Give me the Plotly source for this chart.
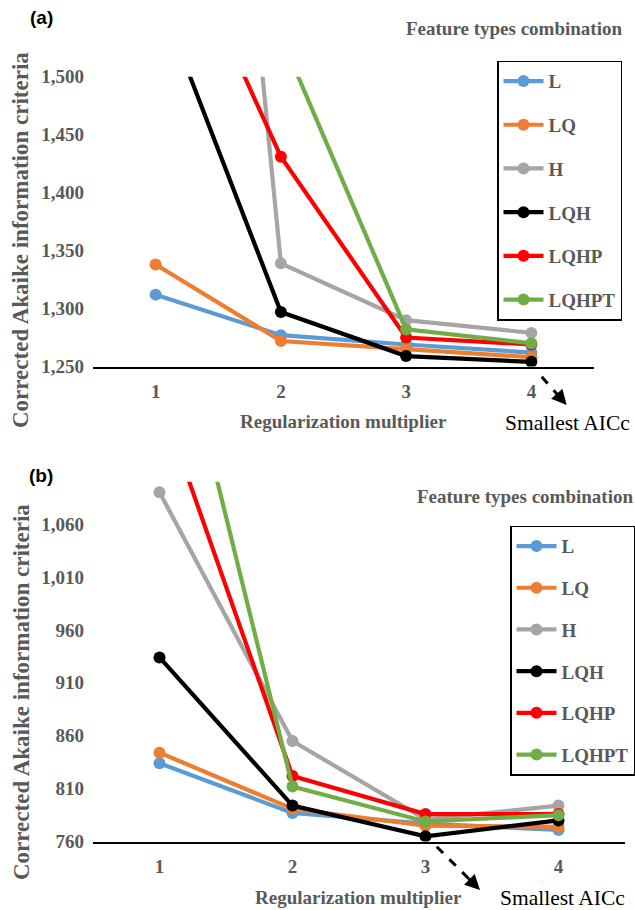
import plotly.graph_objects as go

# ---------------- data ----------------
multipliers = [1, 2, 3, 4]
tick_text = ["1", "2", "3", "4"]
series_names = ["L", "LQ", "H", "LQH", "LQHP", "LQHPT"]
colors = ["#5B9BD5", "#ED7D31", "#A5A5A5", "#000000", "#FF0000", "#70AD47"]

# panel (a)
L_a = [1312, 1277, 1269, 1262]
LQ_a = [1338, 1272, 1265, 1258]
H_a = [2440, 1339, 1290, 1279]
LQH_a = [1577, 1297, 1259, 1254]
LQHP_a = [1669, 1431, 1275, 1269]
LQHPT_a = [1800, 1535, 1282, 1270]

# panel (b)
L_b = [834, 787, 777, 771]
LQ_b = [844, 791, 775, 774]
H_b = [1090, 855, 781, 794]
LQH_b = [934, 794, 765, 780]
LQHP_b = [1180, 822, 786, 786]
LQHPT_b = [1322, 812, 779, 785]

panel_a = [L_a, LQ_a, H_a, LQH_a, LQHP_a, LQHPT_a]
panel_b = [L_b, LQ_b, H_b, LQH_b, LQHP_b, LQHPT_b]

W, H = 635, 910
SERIF = "Liberation Serif, Times New Roman, serif"
SANS = "Liberation Sans, Arial, sans-serif"
GRAY = "#595959"


def px(x):
    return x / W


def py(y):
    return 1 - y / H


fig = go.Figure()

for name, vals, col in zip(series_names, panel_a, colors):
    fig.add_trace(go.Scatter(
        x=multipliers, y=vals, name=name, mode="lines+markers",
        line=dict(color=col, width=4.2), marker=dict(color=col, size=12),
        xaxis="x", yaxis="y", legend="legend", legendgroup="a" + name,
    ))

for name, vals, col in zip(series_names, panel_b, colors):
    fig.add_trace(go.Scatter(
        x=multipliers, y=vals, name=name, mode="lines+markers",
        line=dict(color=col, width=4.2), marker=dict(color=col, size=12),
        xaxis="x2", yaxis="y2", legend="legend2", legendgroup="b" + name,
    ))

tickfont = dict(family=SERIF, size=19, color=GRAY, weight="bold")

xcommon = dict(
    range=[0.5, 4.5], tickvals=multipliers, ticktext=tick_text,
    showgrid=False, zeroline=False, showline=True, linecolor="black",
    linewidth=1.5, ticks="", tickfont=tickfont, ticklabelstandoff=7,
    fixedrange=True,
)
ycommon = dict(
    showgrid=False, zeroline=False, showline=False, ticks="",
    tickformat=",d", dtick=50, tickfont=tickfont, ticklabelstandoff=8,
    fixedrange=True,
)

legend_common = dict(
    bgcolor="white", bordercolor="black", borderwidth=1.5,
    font=dict(family=SERIF, size=19, color=GRAY, weight="bold"),
    xanchor="left", yanchor="top", traceorder="grouped", itemwidth=40,
)

fig.update_layout(
    width=W, height=H, margin=dict(l=0, r=0, t=0, b=0, autoexpand=False),
    paper_bgcolor="white", plot_bgcolor="white",
    xaxis=dict(domain=[px(93), px(594)], anchor="y", **xcommon),
    yaxis=dict(domain=[py(366.5), py(76.7)], anchor="x", range=[1250, 1500],
               tick0=1250, **ycommon),
    xaxis2=dict(domain=[px(93), px(625)], anchor="y2", **xcommon),
    yaxis2=dict(domain=[py(841.6), py(481.7)], anchor="x2", range=[760, 1100],
                tick0=760, **ycommon),
    legend=dict(x=px(497), y=py(60.7), tracegroupgap=16, **legend_common),
    legend2=dict(x=px(510), y=py(525.7), tracegroupgap=14,
                 entrywidth=88, entrywidthmode="pixels", **legend_common),
    showlegend=True,
)

ann = []
P = dict(xref="paper", yref="paper", showarrow=False,
         xanchor="center", yanchor="middle")
# panel labels
ann.append(dict(text="(a)", x=px(41), y=py(17), **P,
                font=dict(family=SANS, size=19, color="black", weight="bold")))
ann.append(dict(text="(b)", x=px(41), y=py(475), **P,
                font=dict(family=SANS, size=19, color="black", weight="bold")))
# legend titles
for yy, xx in [(28.3, 514), (496.7, 525)]:
    ann.append(dict(text="Feature types combination", x=px(xx), y=py(yy), **P,
                    font=dict(family=SERIF, size=19, color=GRAY, weight="bold")))
# axis titles
for yy, xx in [(421, 343.5), (897, 359)]:
    ann.append(dict(text="Regularization multiplier", x=px(xx), y=py(yy), **P,
                    font=dict(family=SERIF, size=19, color=GRAY, weight="bold")))
for yy in [240, 692]:
    ann.append(dict(text="Corrected Akaike information criteria", x=px(21),
                    y=py(yy), textangle=-90, **P,
                    font=dict(family=SERIF, size=23, color=GRAY, weight="bold")))
# smallest AICc notes
for xx, yy in [(567, 423), (562, 898)]:
    ann.append(dict(text="Smallest AICc", x=px(xx), y=py(yy), **P,
                    font=dict(family=SERIF, size=21.5, color="black")))

# dashed arrows
shapes = []
for (x0, y0, x1, y1) in [(541.7, 376.7, 566.7, 405), (436.7, 846.7, 480, 890)]:
    shapes.append(dict(type="line", xref="paper", yref="paper",
                       x0=px(x0), y0=py(y0), x1=px(x1 - (x1 - x0) * 0.15),
                       y1=py(y1 - (y1 - y0) * 0.15),
                       line=dict(color="black", width=3, dash="dash")))
    ann.append(dict(text="", x=px(x1), y=py(y1), xref="paper", yref="paper",
                    showarrow=True, arrowhead=2, arrowsize=1, arrowwidth=3,
                    arrowcolor="black", ax=-(x1 - x0) * 0.3,
                    ay=-(y1 - y0) * 0.3, axref="pixel", ayref="pixel"))

fig.update_layout(annotations=ann, shapes=shapes)
fig.write_html("out.html")
